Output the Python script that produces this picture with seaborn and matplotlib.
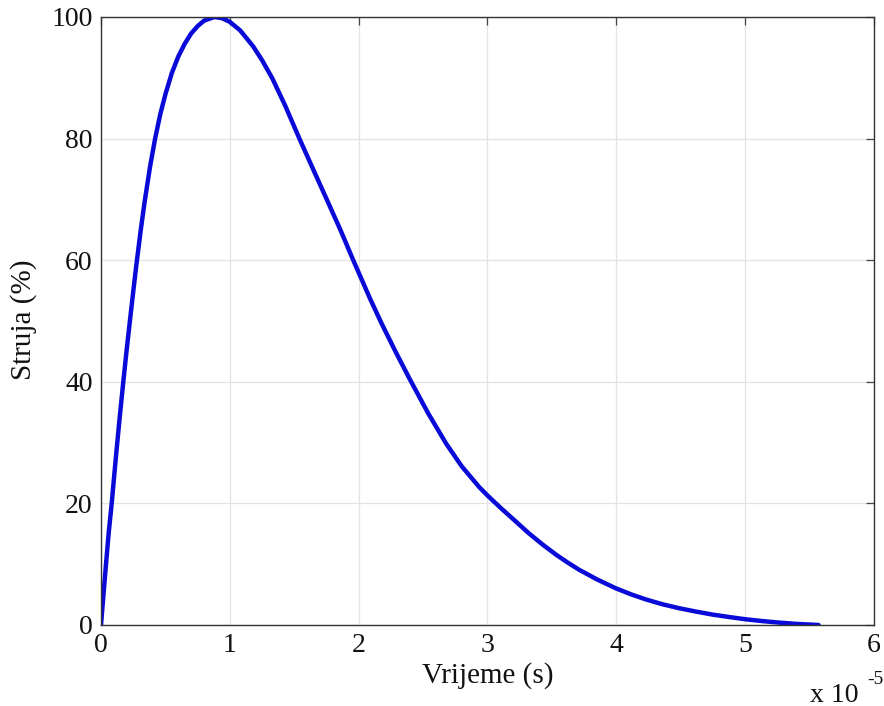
import numpy as np
import pandas as pd
import matplotlib
matplotlib.use("Agg")
import matplotlib.pyplot as plt
import seaborn as sns

# time in units of 1e-5 s, current in %
vrijeme = [0.0, 0.02, 0.04, 0.06, 0.083, 0.10, 0.12, 0.145, 0.173, 0.20, 0.22, 0.25,
           0.276, 0.31, 0.34, 0.38, 0.42, 0.46, 0.50, 0.55, 0.60, 0.65, 0.70, 0.75,
           0.80, 0.88, 0.94, 1.00, 1.08, 1.18, 1.25, 1.33, 1.43, 1.54, 1.65, 1.75,
           1.86, 1.96, 2.09, 2.18, 2.29, 2.40, 2.54, 2.68, 2.80, 2.935, 3.00,
           3.10, 3.20, 3.32, 3.43, 3.53, 3.62, 3.71, 3.85, 4.00, 4.12, 4.23, 4.36,
           4.49, 4.62, 4.75, 4.88, 5.00, 5.13, 5.26, 5.40, 5.57]
struja = [0.0, 5.2, 10.3, 15.2, 20.0, 24.0, 28.6, 34.1, 40.0, 45.4, 49.2, 54.8,
          59.5, 65.2, 69.8, 75.3, 80.0, 84.0, 87.3, 90.8, 93.5, 95.6, 97.3, 98.5,
          99.4, 100.0, 99.8, 99.2, 97.8, 95.2, 92.9, 89.9, 85.4, 80.0, 74.8, 70.1,
          64.9, 59.9, 53.6, 49.5, 44.8, 40.3, 34.8, 29.8, 26.1, 22.7, 21.3,
          19.3, 17.4, 15.1, 13.2, 11.6, 10.3, 9.1, 7.5, 6.0, 5.0, 4.2, 3.4,
          2.75, 2.2, 1.7, 1.3, 0.95, 0.65, 0.4, 0.18, 0.0]

x_ticks = [0, 1, 2, 3, 4, 5, 6]
y_ticks = [0, 20, 40, 60, 80, 100]

df = pd.DataFrame({"Vrijeme": vrijeme, "Struja": struja})

sns.set_style("white")
plt.rcParams["font.family"] = ["Liberation Serif", "DejaVu Serif"]

fig = plt.figure(figsize=(8.84, 7.06), dpi=100)
ax = fig.add_axes([101 / 884, 81 / 706, 773 / 884, 608 / 706])

sns.lineplot(data=df, x="Vrijeme", y="Struja", ax=ax, color="#0a0ad8",
             linewidth=3.2, estimator=None, sort=False)
ax.lines[0].set_solid_joinstyle("round")
ax.lines[0].set_solid_capstyle("round")

ax.set_xlim(0, 6)
ax.set_ylim(0, 100)
ax.set_xticks(x_ticks)
ax.set_yticks(y_ticks)
ax.set_xticklabels([str(v) for v in x_ticks], fontsize=20)
ax.set_yticklabels([str(v) for v in y_ticks], fontsize=20)
ax.grid(True, color="#e3e3e3", linewidth=0.9)
ax.set_axisbelow(True)
for s in ax.spines.values():
    s.set_visible(True)
    s.set_color("#333333")
    s.set_linewidth(1.0)
ax.tick_params(direction="in", length=6, width=0.9, color="#444444",
               top=True, right=True, labelcolor="#111111")
ax.tick_params(axis="x", pad=6)
ax.tick_params(axis="y", pad=6)

ax.set_xlabel("Vrijeme (s)", fontsize=21, color="#111111")
ax.set_ylabel("Struja (%)", fontsize=21, color="#111111")
ax.xaxis.set_label_coords(0.5, -(676 - 625) / 608)
ax.yaxis.set_label_coords(-(101 - 24) / 773, (625 - 320) / 608)
ax.xaxis.label.set_va("center")
ax.yaxis.label.set_va("center")

fig.text(810 / 884, 1 - 695 / 706, "x 10", ha="left", va="center",
         fontsize=20, color="#111111")
fig.text(867 / 884, 1 - 679 / 706, "-5", ha="left", va="center",
         fontsize=14, color="#111111")

fig.savefig("out.png", dpi=100, facecolor="white")
